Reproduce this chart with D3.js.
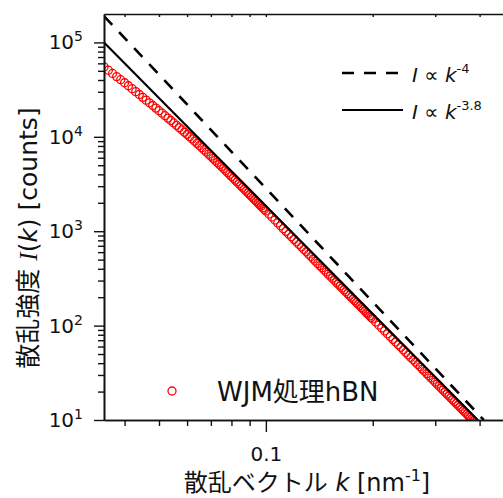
<!DOCTYPE html>
<html>
<head>
<meta charset="utf-8">
<script src="https://cdn.jsdelivr.net/npm/d3@7"></script>
<style>
  body { margin: 0; background: #fff; }
  text { font-family: "DejaVu Sans", "Noto Sans CJK JP", sans-serif; fill: #111; }
</style>
</head>
<body>
<svg id="chart"></svg>
<script>
// scattering vector k [nm^-1] and intensity I(k) [counts]
var kData = [
  0.035,0.036,0.037,0.038,0.039,0.040,0.041,0.042,0.043,0.044,0.045,0.046,0.047,0.048,0.049,0.050,
  0.051,0.052,0.053,0.054,0.055,0.056,0.057,0.058,0.059,0.060,0.061,0.062,0.063,0.064,0.065,0.066,
  0.067,0.068,0.069,0.070,0.071,0.072,0.073,0.074,0.075,0.076,0.077,0.078,0.079,0.080,0.081,0.082,
  0.083,0.084,0.085,0.086,0.087,0.088,0.089,0.090,0.091,0.092,0.093,0.094,0.095,0.096,0.097,0.098,
  0.099,0.100,
  0.102,0.104,0.106,0.108,0.110,0.112,0.114,0.116,0.118,0.120,0.122,0.124,0.126,0.128,0.130,0.132,
  0.134,0.136,0.138,0.140,0.142,0.144,0.146,0.148,0.150,0.152,0.154,0.156,0.158,0.160,0.162,0.164,
  0.166,0.168,0.170,0.172,0.174,0.176,0.178,0.180,0.182,0.184,0.186,0.188,0.190,0.192,0.194,0.196,
  0.198,0.200,
  0.204,0.208,0.212,0.216,0.220,0.224,0.228,0.232,0.236,0.240,0.244,0.248,0.252,0.256,0.260,0.264,
  0.268,0.272,0.276,0.280,0.284,0.288,0.292,0.296,0.300,0.304,0.308,0.312,0.316,0.320,0.324,0.328,
  0.332,0.336,0.340,0.344,0.348,0.352,0.356,0.360,0.364,0.368,0.372,0.376,0.380,0.384,0.388,0.392,
  0.396,0.400
];
var iData = [
  55020,50770,46900,43420,40260,37370,34760,32340,30090,28070,26180,24470,22910,21460,20140,18920,
  17790,16740,15780,14880,14030,13240,12510,11830,11180,10580,10020,9493,8991,8524,8083,7664,
  7268,6896,6548,6223,5911,5622,5347,5092,4845,4612,4393,4186,3992,3809,3638,3475,
  3322,3177,3039,2907,2782,2663,2551,2446,2345,2250,2159,2073,1991,1913,1839,1769,
  1702,1639,
  1520,1412,1313,1223,1141,1065,996,932,874,820,770,724,681,641,605,571,
  539,509,482,456,432,410,389,369,351,334,318,302,288,275,262,250,
  239,228,218,209,200,191,183,176,168,162,155,149,143,137,132,127,
  122,118,
  109.1,101.4,94.3,87.8,81.9,76.5,71.5,66.9,62.7,58.9,55.3,52.0,48.9,46.0,43.4,41.0,
  38.7,36.6,34.6,32.8,31.0,29.4,27.9,26.5,25.2,24.0,22.8,21.7,20.7,19.7,18.8,17.96,
  17.15,16.39,15.66,14.98,14.33,13.73,13.15,12.61,12.09,11.60,11.13,10.69,10.26,9.86,9.48,9.12,
  8.78,8.45
];

// power-law guide lines (end points)
var steepK = [0.035, 0.411], steepI = [190000, 10];   // I ∝ k^-4
var fitK = [0.035, 0.395], fitI = [100000, 10];       // I ∝ k^-3.8

var xMajor = [0.1];
var xMinor = [0.04, 0.05, 0.06, 0.07, 0.08, 0.09, 0.2, 0.3, 0.4];
var yMajor = [10, 100, 1000, 10000, 100000];
var yMinor = [];
yMajor.forEach(function(d) {
  for (var m = 2; m <= 9; m++) if (d * m < 2e5) yMinor.push(d * m);
});

var seriesName = "WJM処理hBN";

var width = 503, height = 498;
var svg = d3.select("#chart").attr("width", width).attr("height", height);

var x = d3.scaleLog().domain([0.035, 0.5]).range([104, 514]);
var y = d3.scaleLog().domain([10, 2e5]).range([420, 14]);

var plotLeft = x.range()[0], plotTop = y.range()[1], plotBottom = y.range()[0];

svg.append("defs").append("clipPath").attr("id", "clip")
  .append("rect")
  .attr("x", plotLeft).attr("y", plotTop)
  .attr("width", width - plotLeft).attr("height", plotBottom - plotTop);

var plot = svg.append("g").attr("clip-path", "url(#clip)");

// data markers
plot.selectAll("circle.pt")
  .data(kData)
  .enter().append("circle")
  .attr("class", "pt")
  .attr("cx", function(d) { return x(d); })
  .attr("cy", function(d, i) { return y(iData[i]); })
  .attr("r", 4)
  .attr("fill", "none")
  .attr("stroke", "#ff0000")
  .attr("stroke-width", 1.3);

var line = d3.line()
  .x(function(d) { return x(d[0]); })
  .y(function(d) { return y(d[1]); });

plot.append("path")
  .attr("d", line(d3.zip(steepK, steepI)))
  .attr("fill", "none").attr("stroke", "#000")
  .attr("stroke-width", 2.6).attr("stroke-dasharray", "12,10");

plot.append("path")
  .attr("d", line(d3.zip(fitK, fitI)))
  .attr("fill", "none").attr("stroke", "#000")
  .attr("stroke-width", 2.2);

function styleAxis(g) {
  g.attr("font-family", null).attr("font-size", null);
  g.selectAll(".domain").attr("stroke", "#111").attr("stroke-width", 1.6);
  g.selectAll(".tick line").attr("stroke", "#111").attr("stroke-width", 1.4);
}

// left axis
svg.append("g")
  .attr("transform", "translate(" + plotLeft + ",0)")
  .call(d3.axisLeft(y).tickValues(yMinor).tickSize(6).tickSizeOuter(0).tickFormat(""))
  .call(styleAxis);

var yAx = svg.append("g")
  .attr("transform", "translate(" + plotLeft + ",0)")
  .call(d3.axisLeft(y).tickValues(yMajor).tickSize(10).tickSizeOuter(0).tickPadding(11))
  .call(styleAxis);

yAx.selectAll(".tick text")
  .attr("font-size", 20)
  .each(function(d) {
    var t = d3.select(this);
    t.text("");
    t.append("tspan").text("10");
    t.append("tspan").attr("font-size", 14).attr("dy", -8)
      .text(Math.round(Math.log10(d)));
  });

// bottom axis
svg.append("g")
  .attr("transform", "translate(0," + plotBottom + ")")
  .call(d3.axisBottom(x).tickValues(xMinor).tickSize(6).tickSizeOuter(0).tickFormat(""))
  .call(styleAxis);

svg.append("g")
  .attr("transform", "translate(0," + plotBottom + ")")
  .call(d3.axisBottom(x).tickValues(xMajor).tickSize(12).tickSizeOuter(0).tickPadding(15)
    .tickFormat(d3.format(".1f")))
  .call(styleAxis)
  .selectAll(".tick text").attr("font-size", 20);

// top axis, ticks inward
svg.append("g")
  .attr("transform", "translate(0," + plotTop + ")")
  .call(d3.axisBottom(x).tickValues(xMajor.concat(xMinor)).tickSize(3).tickSizeOuter(0).tickFormat(""))
  .call(styleAxis);

// axis titles
var xt = svg.append("text")
  .attr("x", 307).attr("y", 491)
  .attr("text-anchor", "middle").attr("font-size", 24);
xt.append("tspan").text("散乱ベクトル ");
xt.append("tspan").attr("font-style", "italic").text("k");
xt.append("tspan").text(" [nm");
xt.append("tspan").attr("font-size", 16).attr("dy", -10).text("-1");
xt.append("tspan").attr("dy", 10).text("]");

var yt = svg.append("text")
  .attr("transform", "translate(37,238) rotate(-90)")
  .attr("text-anchor", "middle").attr("font-size", 25);
yt.append("tspan").text("散乱強度 ");
yt.append("tspan").attr("font-family", "Liberation Serif").attr("font-style", "italic").text("I");
yt.append("tspan").text("(");
yt.append("tspan").attr("font-style", "italic").text("k");
yt.append("tspan").text(") [counts]");

// legend: guide lines
var legend = [
  { dash: "12,10", w: 2.6, exp: "-4", y: 73 },
  { dash: null, w: 2.2, exp: "-3.8", y: 110 }
];
legend.forEach(function(d) {
  svg.append("line")
    .attr("x1", 342).attr("x2", 403).attr("y1", d.y).attr("y2", d.y)
    .attr("stroke", "#000").attr("stroke-width", d.w)
    .attr("stroke-dasharray", d.dash);
  var t = svg.append("text").attr("x", 412).attr("y", d.y + 9).attr("font-size", 20);
  t.append("tspan").attr("font-style", "italic").text("I");
  t.append("tspan").text(" ∝ ");
  t.append("tspan").attr("font-style", "italic").text("k");
  t.append("tspan").attr("font-size", 13).attr("dy", -9).text(d.exp);
});

// legend: data
svg.append("circle")
  .attr("cx", 172).attr("cy", 391).attr("r", 4)
  .attr("fill", "none").attr("stroke", "#ff0000").attr("stroke-width", 1.3);
svg.append("text")
  .attr("x", 217).attr("y", 401).attr("font-size", 26)
  .text(seriesName);
</script>
</body>
</html>
